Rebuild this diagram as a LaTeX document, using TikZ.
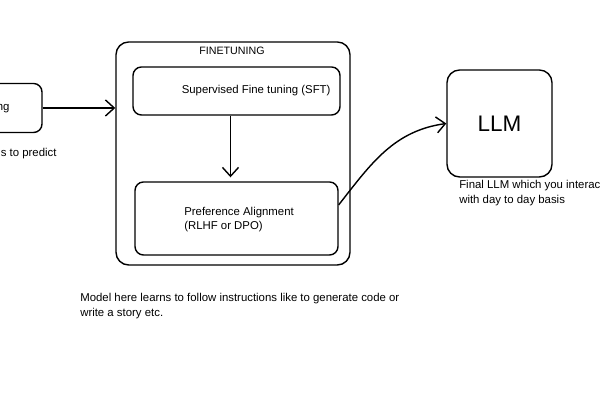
\documentclass[tikz,border=0pt]{standalone}
\usepackage{fontspec}
\setmainfont{Liberation Sans}
\usetikzlibrary{arrows.meta}

\tikzset{
  box/.style={draw,line width=1pt,rounded corners=6pt,inner sep=0pt},
  note/.style={inner sep=0pt,align=left,font=\fontsize{8.1}{10.5}\selectfont},
  flow/.style={line width=1pt,-{Straight Barb[length=2.2mm,width=4mm]}}
}

\begin{document}
\begin{tikzpicture}
\useasboundingbox (0,0) rectangle (15,10);
% left stage, cut off by the page edge
\node[box,minimum width=3cm,minimum height=1.225cm,font=\fontsize{8.1}{10}\selectfont] (pretrain) at (-0.45,7.3) {Pretraining};
\node[note,anchor=north east] (pretext) at (1.42,6.3) {Model learns to predict\\next token.};
% finetuning block
\node[box,rounded corners=9pt,minimum width=5.85cm,minimum height=5.575cm] (finetune) at (5.825,6.1625) {};
\node[note,font=\fontsize{7.6}{9}\selectfont] (ftlabel) at (5.8,8.72) {FINETUNING};
\node[box,minimum width=5.175cm,minimum height=1.2cm] (sft) at (5.9125,7.725) {};
\node[note,anchor=east] (sfttext) at (8.27,7.725) {Supervised Fine tuning (SFT)};
\node[box,minimum width=5.075cm,minimum height=1.825cm] (pa) at (5.9125,4.5375) {};
\node[note,anchor=west] (patext) at (4.6,4.51) {Preference Alignment\\(RLHF or DPO)};
% final model
\node[box,rounded corners=9pt,minimum width=2.625cm,minimum height=2.675cm,font=\fontsize{16}{20}\selectfont] (llm) at (12.4875,6.9125) {LLM};
\node[note,anchor=north west] (llmtext) at (11.475,5.5) {Final LLM which you interact\\with day to day basis};
\node[note,anchor=north west] (fttext) at (2.0,2.67) {Model here learns to follow instructions like to generate code or\\write a story etc.};
% connectors
\draw[flow] (pretrain.east) -- (pretrain.east -| finetune.west);
\draw[flow] ([xshift=-1.5mm]sft.south) -- ([xshift=-1.5mm,yshift=1mm]pa.north);
\draw[flow] ([yshift=3.4mm]pa.east) to[out=52,in=188] (llm.west);
\end{tikzpicture}
\end{document}
